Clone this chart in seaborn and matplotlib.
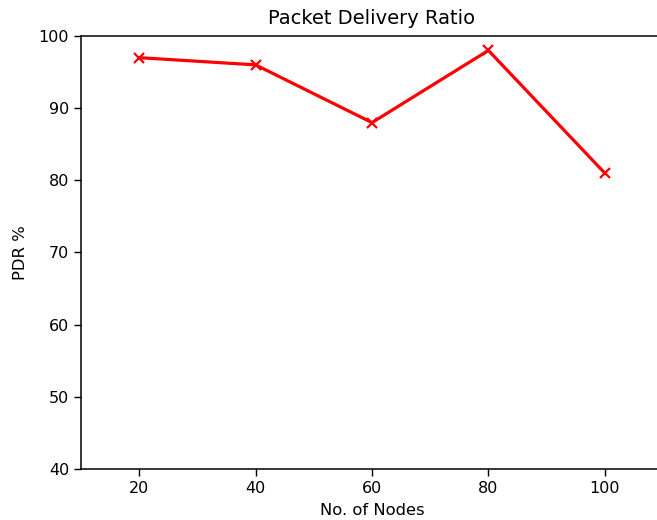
import matplotlib
matplotlib.use("Agg")
import matplotlib.pyplot as plt
import seaborn as sns
import pandas as pd

nodes = [20, 40, 60, 80, 100]
pdr = [97, 96, 88, 98, 81]

df = pd.DataFrame({"nodes": nodes, "pdr": pdr})

fig = plt.figure(figsize=(6.57, 5.2), dpi=100)
ax = fig.add_axes([81 / 657, 1 - 469 / 520, (663 - 81) / 657, (469 - 36) / 520])

sns.lineplot(data=df, x="nodes", y="pdr", ax=ax, color="red", linewidth=2.3,
             marker="x", markersize=7, markeredgewidth=1.6, markeredgecolor="red")

ax.set_xlim(10, 110)
ax.set_ylim(40, 100)
ax.set_xticks(nodes)
ax.tick_params(labelsize=11.5, length=5, width=1)
for s in ax.spines.values():
    s.set_linewidth(1.1)
ax.set_title("Packet Delivery Ratio", fontsize=14, pad=9)
ax.set_xlabel("No. of Nodes", fontsize=11.8, labelpad=5)
ax.set_ylabel("PDR %", fontsize=11.8, labelpad=8)

fig.savefig("out.png", dpi=100)
